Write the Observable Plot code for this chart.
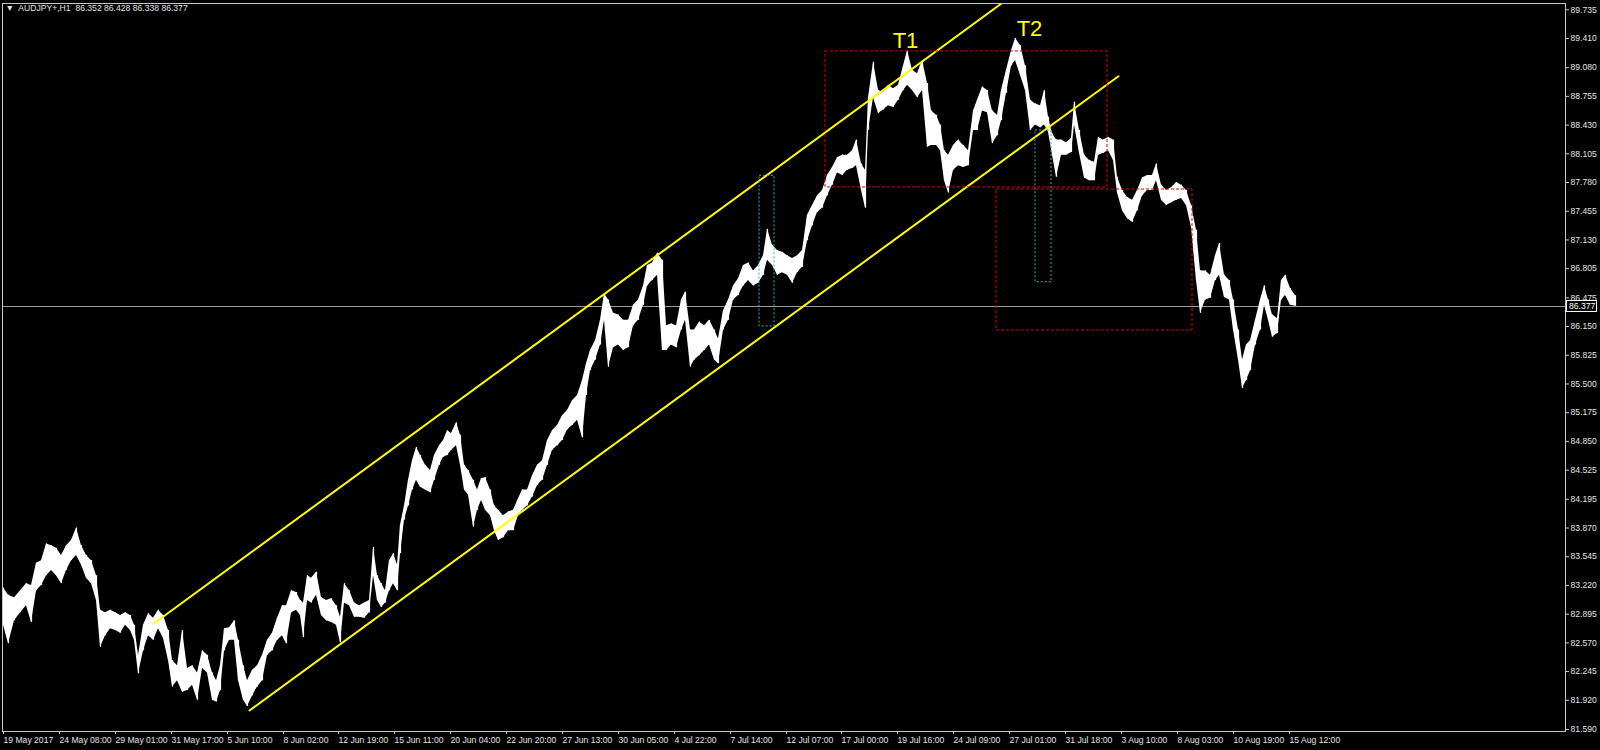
<!DOCTYPE html>
<html><head><meta charset="utf-8">
<script src="https://cdn.jsdelivr.net/npm/d3@7"></script>
<script src="https://cdn.jsdelivr.net/npm/@observablehq/plot@0.6"></script>
<style>
html,body{margin:0;padding:0;background:#000;}
#chart{width:1600px;height:750px;position:relative;}
</style></head><body><div id="chart"></div>
<script>
// ---- header ----
const symbolTitle = "AUDJPY+,H1";
const lastOHLC = ["86.352", "86.428", "86.338", "86.377"];
const lastClose = 86.377;

// ---- H1 price range, sampled: [bar, high, low] ----
const segMay = [[0,83.19,82.77],[5,83.11,82.56],[11,83.08,82.82],[17,83.16,82.91],[23,83.24,82.99],[28,83.22,82.80],[33,83.47,83.16],[38,83.50,83.22],[43,83.69,83.33],[48,83.67,83.39],[53,83.64,83.33],[58,83.56,83.24],[63,83.67,83.39],[68,83.73,83.50],[73,83.87,83.56],[78,83.67,83.45],[83,83.56,83.30],[88,83.50,83.24],[93,83.33,83.05],[97,82.94,82.52],[102,82.91,82.65],[107,82.94,82.73],[112,82.91,82.71],[117,82.88,82.68],[122,82.91,82.77],[127,82.88,82.71],[131,82.77,82.60],[135,82.43,82.22],[140,82.77,82.48],[145,82.90,82.65],[150,82.85,82.60],[155,82.94,82.73],[160,82.88,82.62],[165,82.71,82.37],[169,82.37,82.07],[174,82.31,82.14],[179,82.71,82.01],[184,82.28,82.03],[189,82.31,82.09],[194,82.23,81.92],[199,82.48,82.28],[204,82.43,82.23],[209,82.23,81.92],[213,82.14,81.90],[217,82.31,82.03],[221,82.73,82.48],[226,82.74,82.60],[231,82.82,82.60],[235,82.60,82.14],[240,82.31,81.92],[244,82.14,81.85],[249,82.26,81.97],[254,82.31,82.07],[259,82.43,82.14],[264,82.60,82.43],[269,82.68,82.48],[274,82.85,82.60],[279,82.99,82.65],[283,82.99,82.56],[288,83.16,82.91],[293,83.14,82.94],[297,83.05,82.88],[300,83.02,82.63]];
const segJune = [[304,83.33,83.05],[308,83.30,83.02],[313,83.37,83.11],[318,83.08,82.88],[323,83.05,82.82],[328,83.07,82.80],[333,82.99,82.77],[337,82.86,82.57],[341,83.24,83.02],[346,83.16,82.99],[351,83.02,82.86],[356,82.99,82.86],[361,83.02,82.85],[366,83.05,82.91],[370,83.65,83.33],[374,83.33,83.05],[378,83.24,82.97],[382,83.16,83.02],[386,83.50,83.16],[390,83.58,83.24],[394,83.45,83.16],[397,83.90,83.58],[401,84.12,83.96],[405,84.41,84.12],[409,84.63,84.30],[413,84.78,84.41],[417,84.69,84.33],[422,84.58,84.30],[427,84.52,84.27],[431,84.69,84.41],[436,84.80,84.58],[440,84.86,84.67],[444,84.97,84.69],[448,84.94,84.75],[453,85.06,84.80],[457,84.92,84.58],[461,84.58,84.30],[465,84.52,84.24],[470,84.41,83.88],[474,84.30,84.07],[478,84.43,84.18],[482,84.44,84.07],[487,84.30,84.01],[491,84.12,83.84],[495,84.07,83.73],[500,84.01,83.76],[505,84.05,83.84],[510,84.07,83.84],[515,84.20,84.01],[519,84.30,84.07],[524,84.30,84.12],[529,84.46,84.22],[534,84.58,84.35],[539,84.63,84.41],[544,84.86,84.58],[549,84.97,84.75],[554,85.03,84.80],[559,85.14,84.86],[564,85.20,84.98],[569,85.31,85.03],[574,85.37,85.09],[579,85.54,84.89],[583,85.73,85.37],[587,85.88,85.65],[592,85.99,85.77],[597,86.22,85.94],[601,86.52,86.22]];
const segJuly = [[605,86.45,85.69],[610,86.30,85.91],[615,86.28,85.94],[620,86.22,85.88],[625,86.22,85.91],[630,86.39,86.16],[635,86.45,86.22],[640,86.61,86.39],[644,86.84,86.61],[649,86.87,86.67],[654,86.98,86.73],[659,86.90,85.88],[663,86.16,85.88],[668,86.18,85.94],[673,86.16,85.91],[678,86.45,86.11],[682,86.54,86.22],[687,86.11,85.69],[691,86.11,85.77],[696,86.20,85.82],[701,86.16,85.88],[706,86.22,85.94],[711,86.11,85.77],[715,86.01,85.73],[720,86.33,86.11],[725,86.45,86.22],[730,86.61,86.45],[735,86.69,86.50],[740,86.84,86.61],[745,86.87,86.67],[750,86.78,86.61],[755,86.84,86.64],[760,86.95,86.73],[764,87.25,86.90],[769,87.07,86.84],[774,87.01,86.73],[779,86.99,86.76],[784,86.95,86.73],[789,86.92,86.64],[794,86.95,86.76],[799,87.01,86.82],[804,87.41,87.12],[809,87.52,87.29],[814,87.63,87.44],[819,87.69,87.49],[824,87.86,87.63],[829,87.95,87.75],[834,88.06,87.89],[839,88.09,87.86],[844,88.09,87.92],[849,88.14,87.94],[853,88.26,87.97],[858,87.99,87.69],[862,87.92,87.49],[865,88.74,88.37],[870,89.14,88.74],[875,88.82,88.56],[880,88.80,88.60],[885,88.88,88.65],[890,88.84,88.63],[895,88.88,88.71],[900,89.10,88.82],[904,89.27,88.88],[909,89.05,88.82],[914,89.01,88.74]];
const segAugust = [[919,89.16,88.82],[924,88.90,88.18],[928,88.59,88.20],[933,88.54,88.20],[937,88.43,88.14],[941,88.14,87.80],[945,88.09,87.66],[950,88.20,87.92],[955,88.26,87.97],[960,88.20,87.95],[965,88.14,87.97],[970,88.59,88.37],[974,88.71,88.37],[979,88.86,88.59],[984,88.82,88.57],[989,88.59,88.22],[994,88.54,88.31],[998,88.82,88.48],[1003,89.05,88.79],[1008,89.27,89.10],[1012,89.41,89.16],[1017,89.33,88.99],[1022,89.10,88.82],[1027,88.71,88.37],[1032,88.67,88.43],[1037,88.65,88.40],[1041,88.82,88.43],[1045,88.52,88.35],[1049,88.33,88.09],[1053,88.26,87.84],[1058,88.26,88.09],[1063,88.23,88.09],[1068,88.28,88.12],[1071,88.69,88.43],[1076,88.37,88.11],[1081,88.09,87.83],[1086,88.03,87.80],[1091,88.01,87.80],[1095,88.29,88.09],[1100,88.26,88.11],[1105,88.29,88.14],[1110,88.26,88.03],[1114,87.84,87.66],[1119,87.69,87.46],[1124,87.61,87.37],[1129,87.58,87.33],[1134,87.69,87.46],[1139,87.83,87.63],[1144,87.86,87.69],[1149,87.86,87.69],[1153,87.99,87.80],[1158,87.75,87.58],[1163,87.69,87.52],[1168,87.72,87.55],[1173,87.78,87.58],[1178,87.75,87.60],[1183,87.69,87.52],[1188,87.52,87.27],[1193,87.24,86.67],[1197,86.78,86.30],[1202,86.78,86.45],[1207,86.73,86.47],[1212,86.95,86.67],[1216,87.09,86.73],[1221,86.73,86.48],[1226,86.67,86.45],[1230,86.45,86.11],[1235,86.11,85.77],[1239,85.77,85.45],[1243,85.94,85.54],[1247,85.99,85.65],[1252,86.22,85.94],[1257,86.45,86.11],[1261,86.61,86.39],[1265,86.45,86.22],[1269,86.28,86.03],[1274,86.24,86.07],[1278,86.67,86.45],[1282,86.73,86.50],[1287,86.58,86.39],[1292,86.50,86.38]];

// ---- axes ----
const priceTicks = [89.735,89.410,89.080,88.755,88.430,88.105,87.780,87.455,87.130,86.805,86.475,86.150,85.825,85.500,85.175,84.850,84.525,84.195,83.870,83.545,83.220,82.895,82.570,82.245,81.920,81.590];
const timeTickBars = [0,56,112,168,224,280,335,391,447,503,559,615,671,727,783,838,894,950,1006,1062,1118,1174,1230,1286];
const timeTickLabels = ["19 May 2017","24 May 08:00","29 May 01:00","31 May 17:00","5 Jun 10:00","8 Jun 02:00","12 Jun 19:00","15 Jun 11:00","20 Jun 04:00","22 Jun 20:00","27 Jun 13:00","30 Jun 05:00","4 Jul 22:00","7 Jul 14:00","12 Jul 07:00","17 Jul 00:00","19 Jul 16:00","24 Jul 09:00","27 Jul 01:00","31 Jul 18:00","3 Aug 10:00","8 Aug 03:00","10 Aug 19:00","15 Aug 12:00"];

// ---- drawn objects ----
const channelUpper = [[150,82.786],[998,89.806]];
const channelLower = [[246,81.805],[1115,88.983]];
const redBoxes = [[822,1104,89.263,87.724],[993,1189,87.701,86.105]];
const cyanBoxes = [[756,771,87.856,86.151],[1032,1048,88.369,86.652]];
const peakLabels = [["T1",902,89.382],["T2",1026,89.523]];

const allBars = [...segMay, ...segJune, ...segJuly, ...segAugust];
const labelByBar = new Map(timeTickBars.map((b, i) => [b, timeTickLabels[i]]));
const font = "'Liberation Sans', Arial, sans-serif";

const chart = Plot.plot({
  width: 1600, height: 750,
  marginLeft: 2, marginRight: 35, marginTop: 3, marginBottom: 19,
  style: {background: "#000", color: "#e4e4e4", fontFamily: font, fontSize: "8.6px"},
  x: {domain: [-1, 1562], axis: null},
  y: {domain: [81.567, 89.806], axis: null},
  marks: [
    Plot.axisY({anchor: "right", ticks: priceTicks, tickFormat: d => d.toFixed(3), tickSize: 3, tickPadding: 2, label: null, stroke: "#cfcfcf"}),
    Plot.axisX({anchor: "bottom", ticks: timeTickBars, tickFormat: d => labelByBar.get(d), tickSize: 3, tickPadding: 2, textAnchor: "start", label: null, stroke: "#cfcfcf"}),
    Plot.ruleY([lastClose], {stroke: "#9c9c9c", strokeWidth: 1}),
    Plot.areaY(allBars, {x: d => d[0], y1: d => d[2], y2: d => d[1], fill: "#ffffff", curve: "linear"}),
    Plot.ruleX(allBars, {x: d => d[0], y1: d => d[2], y2: d => d[1], stroke: "#ffffff", strokeWidth: 1.2}),
    Plot.line(channelUpper, {x: d => d[0], y: d => d[1], stroke: "#ffff00", strokeWidth: 2, clip: true}),
    Plot.line(channelLower, {x: d => d[0], y: d => d[1], stroke: "#ffff00", strokeWidth: 2, clip: true}),
    Plot.rect(redBoxes, {x1: d => d[0], x2: d => d[1], y1: d => d[2], y2: d => d[3], fill: "none", stroke: "#e00000", strokeWidth: 1, strokeDasharray: "3,2"}),
    Plot.rect(cyanBoxes, {x1: d => d[0], x2: d => d[1], y1: d => d[2], y2: d => d[3], fill: "none", stroke: "#2cb5ad", strokeWidth: 1, strokeDasharray: "2,2"}),
    Plot.text(peakLabels, {x: d => d[1], y: d => d[2], text: d => d[0], fill: "#ffff00", fontSize: 22, fontFamily: font}),
    Plot.text([`\u25BC  ${symbolTitle}\u00A0\u00A0${lastOHLC.join(" ")}`], {frameAnchor: "top-left", dx: 3, dy: 1, fill: "#e4e4e4", fontSize: 8.6}),
    Plot.frame({stroke: "#c8c8c8"})
  ]
});
document.getElementById("chart").appendChild(chart);

// current-price tag on the right scale
const svg = d3.select(chart);
const yTag = chart.scale("y").apply(lastClose);
const g = svg.append("g").attr("text-anchor", "start");
g.append("rect").attr("x", 1566.5).attr("y", yTag - 5.5).attr("width", 30).attr("height", 11)
  .attr("fill", "#000").attr("stroke", "#ffffff").attr("stroke-width", 1);
g.append("text").attr("x", 1569).attr("y", yTag).attr("dy", "0.35em").attr("text-anchor", "start")
  .attr("fill", "#ffffff").attr("font-size", "8.6px").attr("font-family", font)
  .text(lastClose.toFixed(3));
</script></body></html>
